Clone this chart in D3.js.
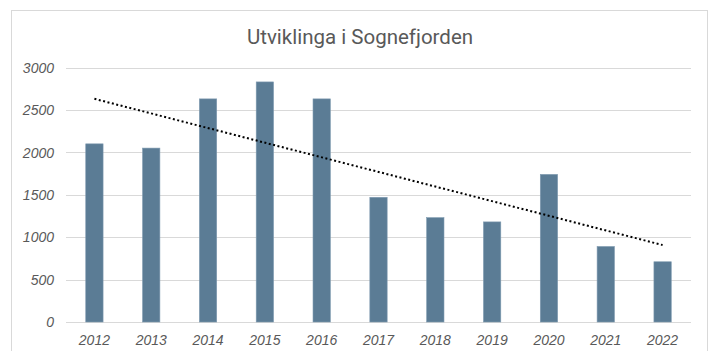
<!DOCTYPE html>
<html>
<head>
<meta charset="utf-8">
<script src="https://cdn.jsdelivr.net/npm/d3@7"></script>
<style>
  html, body { margin: 0; padding: 0; background: #fff; }
  svg { display: block; }
</style>
</head>
<body>
<svg id="chart" width="713" height="351"></svg>
<script>
// Årstal og verdiar for Sognefjorden
const years = ["2012", "2013", "2014", "2015", "2016", "2017", "2018", "2019", "2020", "2021", "2022"];
const values = [2100, 2050, 2630, 2830, 2630, 1470, 1230, 1180, 1740, 890, 710];
const yTicks = [0, 500, 1000, 1500, 2000, 2500, 3000];
const title = "Utviklinga i Sognefjorden";

const svg = d3.select("#chart");
const W = 713, H = 351;
const plot = { left: 66, right: 691, top: 67.5, bottom: 322 };

// Ytre ramme
svg.append("rect")
  .attr("x", 11.5).attr("y", 10.5)
  .attr("width", 696).attr("height", 360)
  .attr("fill", "#fff")
  .attr("stroke", "#d9d9d9")
  .attr("stroke-width", 1);

const x = d3.scaleBand()
  .domain(years)
  .range([plot.left, plot.right])
  .paddingInner(0.695)
  .paddingOuter(0.3475);

const y = d3.scaleLinear()
  .domain([0, 3000])
  .range([plot.bottom, plot.top]);

// Rutenett
svg.append("g")
  .selectAll("line")
  .data(yTicks)
  .join("line")
  .attr("x1", plot.left)
  .attr("x2", plot.right)
  .attr("y1", d => Math.round(y(d)) + 0.5)
  .attr("y2", d => Math.round(y(d)) + 0.5)
  .attr("stroke", "#d9d9d9")
  .attr("stroke-width", 1);

// Y-akse
const yAxis = svg.append("g")
  .attr("transform", `translate(${plot.left - 12},0)`)
  .call(d3.axisLeft(y).tickValues(yTicks).tickSize(0).tickPadding(0).tickFormat(d3.format("d")));
yAxis.select(".domain").remove();
yAxis.selectAll("text")
  .attr("font-family", "'Liberation Sans', Arial, sans-serif")
  .attr("font-style", "italic")
  .attr("font-size", "14px")
  .attr("fill", "#595959")
  .attr("dy", "0.34em");

// Søyler
svg.append("g")
  .selectAll("rect")
  .data(values)
  .join("rect")
  .attr("x", (d, i) => x(years[i]))
  .attr("width", x.bandwidth())
  .attr("y", d => y(d))
  .attr("height", d => y(0) - y(d))
  .attr("fill", "#5b7c95")
  .attr("stroke", "#7f9ab0")
  .attr("stroke-width", 0.6);

// X-akse
const xAxis = svg.append("g")
  .attr("transform", `translate(0,${plot.bottom})`)
  .call(d3.axisBottom(x).tickSize(0).tickPadding(0));
xAxis.select(".domain").remove();
xAxis.selectAll("text")
  .attr("font-family", "'Liberation Sans', Arial, sans-serif")
  .attr("font-style", "italic")
  .attr("font-size", "14px")
  .attr("fill", "#595959")
  .attr("dy", "1.62em");

// Lineær trendlinje (minste kvadrats metode)
const n = values.length;
const xs = d3.range(n);
const mx = d3.mean(xs), my = d3.mean(values);
const slope = d3.sum(xs, i => (i - mx) * (values[i] - my)) / d3.sum(xs, i => (i - mx) ** 2);
const intercept = my - slope * mx;
const trend = xs.map(i => [x(years[i]) + x.bandwidth() / 2, y(intercept + slope * i)]);
svg.append("path")
  .datum([trend[0], trend[n - 1]])
  .attr("d", d3.line())
  .attr("fill", "none")
  .attr("stroke", "#000")
  .attr("stroke-width", 2)
  .attr("stroke-dasharray", "2 2.5");

// Tittel
svg.append("text")
  .attr("x", 360)
  .attr("y", 44)
  .attr("text-anchor", "middle")
  .attr("font-family", "Roboto, 'DejaVu Sans Condensed', sans-serif")
  .attr("font-size", "20.5px")
  .attr("fill", "#595959")
  .text(title);
</script>
</body>
</html>
